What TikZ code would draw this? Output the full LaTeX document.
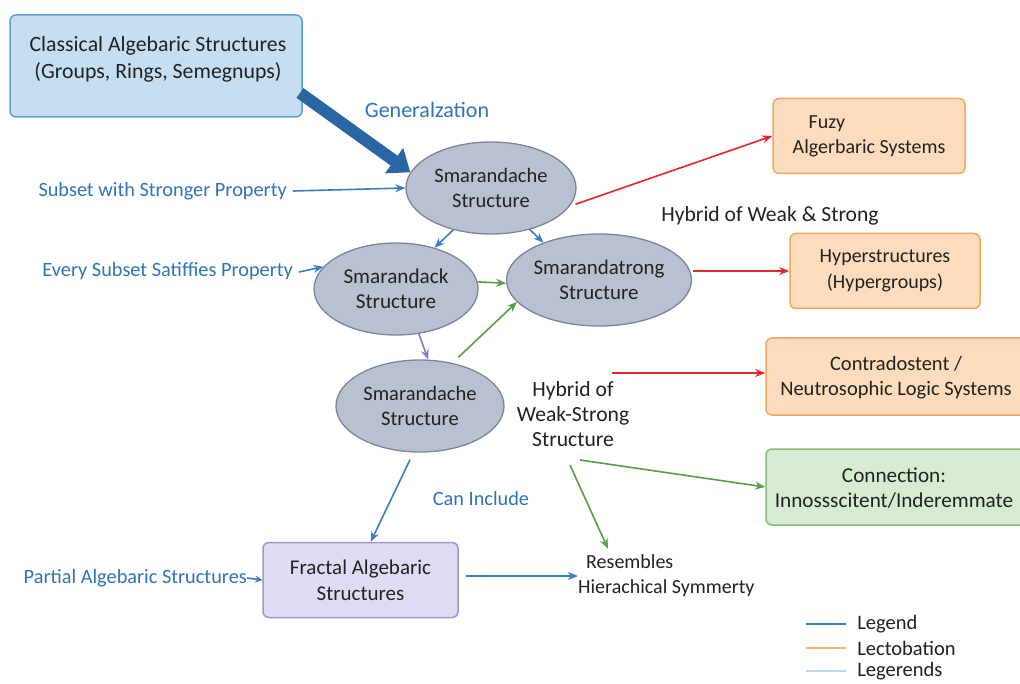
\documentclass[tikz,border=0pt]{standalone}
\usepackage{fontspec}
\setmainfont{Carlito}
\usetikzlibrary{arrows.meta,shapes.geometric,calc}

\definecolor{clsfill}{HTML}{C6DEF2}
\definecolor{clsline}{HTML}{5E9FD6}
\definecolor{orfill}{HTML}{FCDCBC}
\definecolor{orline}{HTML}{F2A65E}
\definecolor{grfill}{HTML}{D7EBD2}
\definecolor{grline}{HTML}{86BD74}
\definecolor{lvfill}{HTML}{DEDCF3}
\definecolor{lvline}{HTML}{9D97CC}
\definecolor{elfill}{HTML}{B9C0D0}
\definecolor{elline}{HTML}{7D8599}
\definecolor{lblue}{HTML}{2E75B6}
\definecolor{abblue}{HTML}{3A7DC4}
\definecolor{dkblue}{HTML}{2A66A6}
\definecolor{ared}{HTML}{E8262A}
\definecolor{agreen}{HTML}{5A9E48}
\definecolor{apurple}{HTML}{8A7CC0}
\definecolor{txt}{HTML}{222222}
\definecolor{lgorange}{HTML}{F5B36B}
\definecolor{lglight}{HTML}{BCD8F0}

\newcommand\mybody{\fontsize{20.5}{25}\selectfont}
\newcommand\mylabel{\fontsize{20.3}{25}\selectfont}
\newcommand\mywide{\fontsize{21.6}{25}\selectfont}
\newcommand\mybig{\fontsize{21.8}{27}\selectfont}

\begin{document}
\begin{tikzpicture}[x=1pt,y=-1pt,
  ellnode/.style={ellipse, draw=elline, fill=elfill, line width=1.3pt,
    minimum width=170pt, minimum height=92pt, inner sep=0pt,
    align=center, font=\mybody, text=txt},
  boxbase/.style={rectangle, rounded corners=6pt, line width=1.5pt,
    align=center, font=\mybody, text=txt, inner sep=0pt},
  orbox/.style={boxbase, draw=orline, fill=orfill},
  grbox/.style={boxbase, draw=grline, fill=grfill},
  lvbox/.style={boxbase, draw=lvline, fill=lvfill},
  boxtext/.style={align=center, font=\mybody, text=txt, inner sep=0pt},
  bluelabel/.style={font=\mylabel, text=lblue, inner sep=0pt},
  plainlabel/.style={font=\mybody, text=txt, inner sep=0pt},
  conn/.style={line width=1.6pt, -{Stealth[length=10pt,width=8pt]}},
  blueconn/.style={conn, draw=abblue},
  redconn/.style={conn, draw=ared},
  greenconn/.style={conn, draw=agreen},
  purpleconn/.style={conn, draw=apurple},
  keyline/.style={line width=2.5pt}
]
\useasboundingbox (0,0) rectangle (1020,684);
\clip (0,0) rectangle (1020,684);
\fill[white] (0,0) rectangle (1020,684);

% top-left source box
\node[boxbase, draw=clsline, fill=clsfill, minimum width=292pt, minimum height=102pt] (cls) at (156,66) {};
\node[boxtext, font=\mybig] (clstext) at (158,59.5)
  {Classical Algebaric Structures\\(Groups, Rings, Semegnups)};

% ellipses
\node[ellnode] (e1) at (491,188) {Smarandache\\Structure};
\node[ellnode, minimum width=164pt, font=\fontsize{21.2}{25}\selectfont] (e2) at (396,289) {Smarandack\\Structure};
\node[ellnode, minimum width=168pt, font=\fontsize{20.9}{25}\selectfont] (e3) at (599,280) {Smarandatrong\\Structure};
\node[ellnode, minimum width=168pt] (e4) at (420,406) {Smarandache\\Structure};

% right-hand boxes (the last two run off the right edge)
\node[orbox, minimum width=192pt, minimum height=75pt, align=left, font=\fontsize{20}{25}\selectfont] (fz) at (869,136)
  {\hspace*{16pt}Fuzy\\Algerbaric Systems};
\node[orbox, minimum width=190pt, minimum height=75pt, font=\fontsize{20}{26}\selectfont] (hy) at (885,271)
  {Hyperstructures\\(Hypergroups)};
\node[orbox, minimum width=280pt, minimum height=77pt] (cd) at (906,376.5) {};
\node[boxtext] (cdtext) at (896,378)
  {Contradostent /\\Neutrosophic Logic Systems};
\node[grbox, minimum width=280pt, minimum height=76pt] (cn) at (906,487) {};
\node[boxtext, font=\fontsize{21.2}{25}\selectfont] (cntext) at (894,488.5)
  {Connection:\\Innossscitent/Inderemmate};
\node[lvbox, minimum width=195pt, minimum height=75pt, font=\fontsize{21}{26}\selectfont] (fr) at (360.5,580)
  {Fractal Algebaric\\Structures};

% free labels
\node[bluelabel, font=\fontsize{22}{25}\selectfont] (gen) at (427,110) {Generalzation};
\node[bluelabel, anchor=east] (ssp) at (287,191) {Subset with Stronger Property};
\node[bluelabel, anchor=east] (esp) at (293,271) {Every Subset Satiffies Property};
\node[bluelabel] (inc) at (481,499) {Can Include};
\node[bluelabel, anchor=east] (pas) at (247,578) {Partial Algebaric Structures};
\node[plainlabel, font=\mywide] (hws) at (770,216) {Hybrid of Weak \& Strong};
\node[plainlabel, align=center, font=\mywide] (hyb) at (573,414) {Hybrid of\\Weak-Strong\\Structure};
\node[plainlabel, align=left, anchor=west, font=\fontsize{20}{25}\selectfont] (rs) at (578,576)
  {\hspace*{8pt}Resembles\\Hierachical Symmerty};

% generalisation arrow
\coordinate (g0) at (300,93);
\draw[dkblue, line width=12pt, -{Triangle[length=20pt,width=30pt]}] (g0) -- (e1.169);

% connectors
\draw[blueconn] (ssp.east) ++(6,0) -- (e1.west);
\draw[blueconn] (esp.east) ++(6,1) -- (e2.163);
\draw[blueconn] (e1.228) -- (e2.47);
\draw[blueconn] (e1.313) -- (e3.146);
\draw[greenconn] (e2.5) -- (e3.182);
\draw[purpleconn] (e2.297) -- (e4.80);
\draw[greenconn, shorten <=8pt] (e4.53) -- (e3.195);
\draw[redconn, shorten <=6pt] (e1.-13) -- (fz.west);
\draw[redconn, shorten <=1pt] (e3.east |- hy.west) -- (hy.west);

\coordinate (h1) at (612,373);
\coordinate (h2) at (580,460);
\coordinate (h3) at (570,465);
\draw[redconn] (h1) -- (cd.west |- h1);
\draw[greenconn] (h2) -- (cn.west);
\draw[greenconn] (h3) -- ($(rs.north west)+(30,-6)$);

\draw[blueconn, shorten <=8pt] (e4.262) -- (fr.75);
\draw[blueconn, -{Stealth[length=7pt,width=7pt]}] (pas.east) -- (fr.west);
\draw[blueconn, shorten <=7pt] (fr.east |- rs.west) -- (rs.west);

% key
\coordinate (k1) at (806,624);
\coordinate (k2) at (806,648);
\coordinate (k3) at (806,671);
\draw[keyline, abblue] (k1) -- ++(40,0) node[plainlabel, anchor=west, xshift=10pt] (kt1) {Legend};
\draw[keyline, lgorange] (k2) -- ++(40,0) node[plainlabel, anchor=west, xshift=10pt] (kt2) {Lectobation};
\draw[keyline, lglight] (k3) -- ++(40,0) node[plainlabel, anchor=west, xshift=10pt] (kt3) {Legerends};
\end{tikzpicture}
\end{document}
